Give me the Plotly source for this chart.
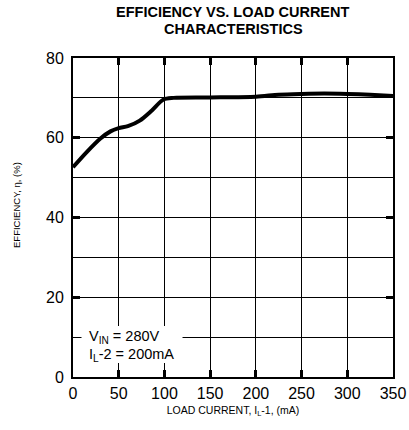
import plotly.graph_objects as go

load_current = [0, 15, 30, 41, 50, 60, 73, 86, 99, 110, 150, 200, 225, 250, 275, 300, 325, 350]
efficiency = [52.6, 56.4, 59.8, 61.6, 62.4, 62.9, 64.3, 66.8, 69.6, 70.0, 70.1, 70.3, 70.8, 71.0, 71.1, 71.0, 70.8, 70.5]

x_ticks = [0, 50, 100, 150, 200, 250, 300, 350]
y_ticks = [0, 20, 40, 60, 80]

title_lines = ["EFFICIENCY VS. LOAD CURRENT", "CHARACTERISTICS"]
note_lines = ["V<sub>IN</sub> = 280V", "I<sub>L</sub>-2 = 200mA"]

FONT = "Liberation Sans, Arial, sans-serif"

fig = go.Figure()
fig.add_trace(go.Scatter(x=load_current, y=efficiency, mode="lines",
                         line=dict(color="black", width=4, shape="spline", smoothing=0.8),
                         showlegend=False, hoverinfo="skip"))

L, R, T, B = 73, 16, 58, 53
W, H = 409, 430
ph = H - T - B

def py(p):
    return (H - B - p) / ph

fig.update_layout(
    width=W, height=H,
    margin=dict(l=L, r=R, t=T, b=B),
    paper_bgcolor="white", plot_bgcolor="white",
    font=dict(family=FONT, color="black"),
)
fig.update_xaxes(range=[0, 350], tickvals=x_ticks, showgrid=True, gridcolor="black", gridwidth=1,
                 showline=True, linecolor="black", linewidth=2, mirror="ticks",
                 ticks="inside", ticklen=7, tickwidth=2.5, tickcolor="black",
                 tickfont=dict(size=16), ticklabelstandoff=1, automargin=False,
                 title=dict(text="LOAD CURRENT, I<sub>L</sub>-1, (mA)", font=dict(size=10.5), standoff=5),
                 zeroline=False)
fig.update_yaxes(range=[0, 80], tickvals=y_ticks, showgrid=True, gridcolor="black", gridwidth=1,
                 minor=dict(dtick=10, showgrid=True, gridcolor="black", gridwidth=1, ticks=""),
                 showline=True, linecolor="black", linewidth=2, mirror="ticks",
                 ticks="inside", ticklen=7, tickwidth=2.5, tickcolor="black",
                 tickfont=dict(size=16), ticklabelstandoff=4, automargin=False,
                 zeroline=False)

# y-axis title
fig.add_annotation(x=(16 - L) / (W - L - R), y=py(205), xref="paper", yref="paper",
                   text="EFFICIENCY, η, (%)", textangle=-90, showarrow=False,
                   xanchor="center", yanchor="middle", font=dict(size=9.5))

# title (two tight lines)
for txt, p in zip(title_lines, [12, 29]):
    fig.add_annotation(x=0.5, y=py(p), xref="paper", yref="paper", text="<b>" + txt + "</b>",
                       showarrow=False, xanchor="center", yanchor="middle", borderpad=0,
                       font=dict(size=14.5))

# white box behind note
fig.add_shape(type="rect", xref="x", yref="y", x0=9.3, x1=119.8, y0=3.5, y1=12.8,
              fillcolor="white", line=dict(width=0), layer="above")
for txt, p in zip(note_lines, [337, 355]):
    fig.add_annotation(x=16, y=(H - B - p) / ph * 80, xref="x", yref="y", text=txt,
                       showarrow=False, xanchor="left", yanchor="middle", align="left",
                       borderpad=0, font=dict(size=14.5))

fig.write_html("out.html")
